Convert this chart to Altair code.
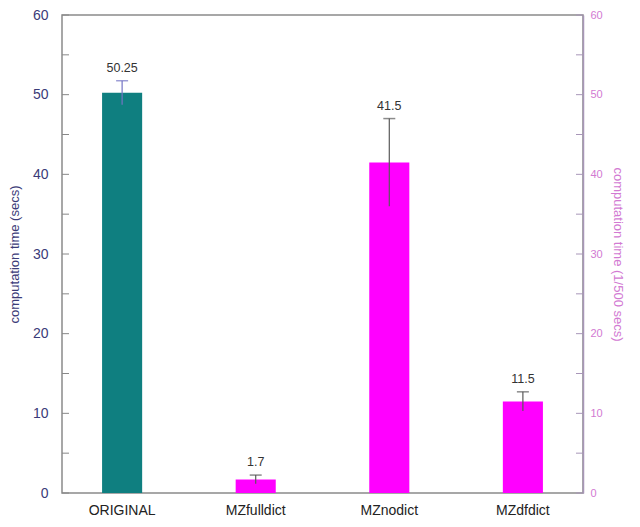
import altair as alt
import pandas as pd

categories = ["ORIGINAL", "MZfulldict", "MZnodict", "MZdfdict"]
values = [50.25, 1.7, 41.5, 11.5]
errors = [1.5, 0.55, 5.5, 1.2]
labels = ["50.25", "1.7", "41.5", "11.5"]
tick_values = [0, 5, 10, 15, 20, 25, 30, 35, 40, 45, 50, 55, 60]
label_values = [0, 10, 20, 30, 40, 50, 60]

df = pd.DataFrame({
    "cat": categories,
    "value": values,
    "lo": [v - e for v, e in zip(values, errors)],
    "hi": [v + e for v, e in zip(values, errors)],
    "label": labels,
})
ticks = pd.DataFrame({"t": tick_values})

W, H = 521, 478
ydom = alt.Scale(domain=[0, 60], nice=False, zero=True)
xscale = alt.Scale(domain=categories, paddingInner=0.7, paddingOuter=0.3)
navy = "#3b3b78"
pink = "#d27ad2"

x_enc = alt.X("cat:N", scale=xscale, sort=categories, title=None,
              axis=alt.Axis(labelAngle=0, labelFontSize=14, labelColor="#222222",
                            labelFont="Liberation Sans", labelPadding=10,
                            ticks=False, domain=False, grid=False))

bars = alt.Chart(df).mark_bar().encode(
    x=x_enc,
    y=alt.Y("value:Q", scale=ydom, title="computation time (secs)",
            axis=alt.Axis(values=label_values, orient="left", ticks=False, domain=False,
                          grid=False, labelFontSize=14, labelColor=navy,
                          labelFont="Liberation Sans", labelPadding=14,
                          titleFontSize=13, titleColor=navy, titleFont="Liberation Sans",
                          titleFontWeight="normal", titlePadding=11)),
    color=alt.Color("cat:N", scale=alt.Scale(domain=categories,
                    range=["#0f7f80", "#ff00ff", "#ff00ff", "#ff00ff"]), legend=None),
)

err_col = alt.condition(alt.datum.cat == "ORIGINAL", alt.value("#7474c4"), alt.value("#5a5a5a"))

rules = alt.Chart(df).mark_rule(strokeWidth=1.2).encode(
    x=x_enc,
    y=alt.Y("lo:Q", scale=ydom, axis=None),
    y2="hi:Q",
    stroke=err_col,
)

caps = alt.Chart(df).mark_tick(orient="horizontal", size=12, thickness=1.5).encode(
    x=x_enc,
    y=alt.Y("hi:Q", scale=ydom, axis=None),
    fill=err_col,
)

texts = alt.Chart(df).mark_text(baseline="bottom", dy=-6, fontSize=12.5,
                                font="Liberation Sans", color="#333333").encode(
    x=x_enc,
    y=alt.Y("hi:Q", scale=ydom, axis=None),
    text="label:N",
)

right_axis = alt.Chart(ticks).mark_rule(opacity=0).encode(
    y=alt.Y("t:Q", scale=ydom, title="computation time (1/500 secs)",
            axis=alt.Axis(values=label_values, orient="right", ticks=False, domain=True,
                          domainColor="#a896b8", domainWidth=1.5, grid=False,
                          labelFontSize=11, labelColor=pink, labelFont="Liberation Sans",
                          labelPadding=7, titleFontSize=13, titleColor=pink,
                          titleFont="Liberation Sans", titleFontWeight="normal",
                          titlePadding=8)),
)

left_ticks = alt.Chart(ticks).mark_rule(color="#888888", strokeWidth=1).encode(
    y=alt.Y("t:Q", scale=ydom, axis=None),
    x=alt.value(0), x2=alt.value(7),
)
right_ticks = alt.Chart(ticks).mark_rule(color="#a896b8", strokeWidth=1).encode(
    y=alt.Y("t:Q", scale=ydom, axis=None),
    x=alt.value(W - 7), x2=alt.value(W),
)

chart = alt.layer(left_ticks, right_ticks, bars, rules, caps, texts, right_axis).resolve_axis(
    y="independent"
).properties(
    width=W, height=H,
    padding={"left": 0, "top": 0, "right": 6, "bottom": 0},
).configure_view(stroke="#8a8a8a", strokeWidth=1.5).configure_axis(grid=False)

chart.save("out.html", embed_options={"renderer": "svg", "actions": False})
